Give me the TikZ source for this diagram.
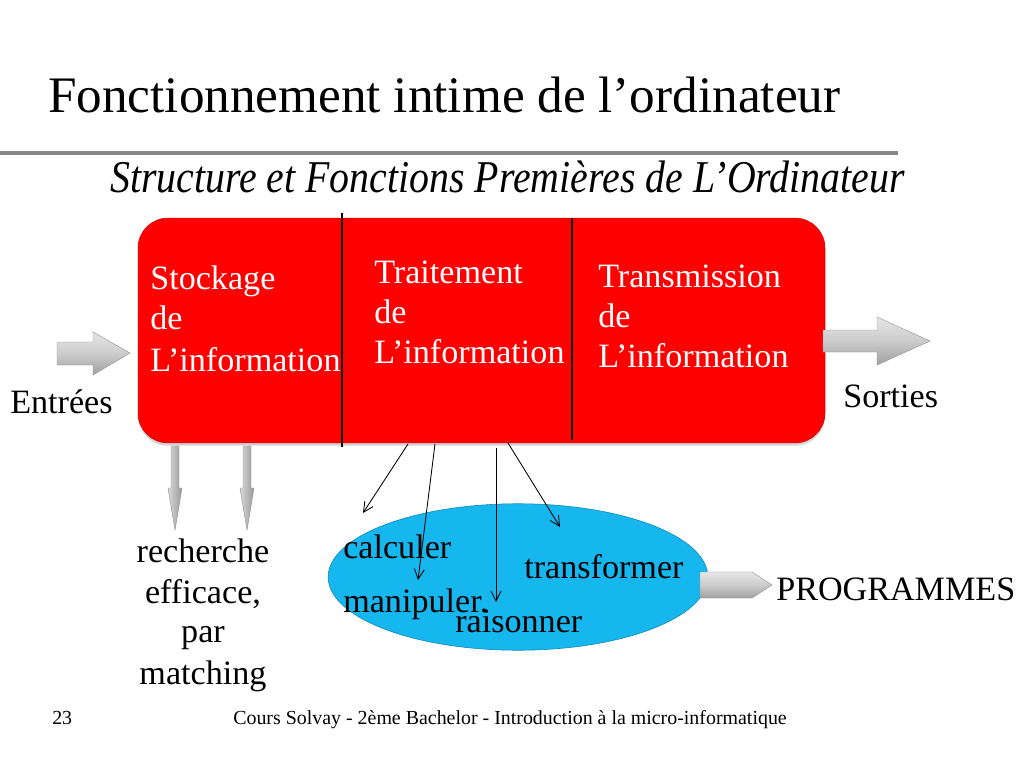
\documentclass[tikz,border=0pt]{standalone}
\usepackage{fontspec}
\setmainfont{Liberation Serif}
\usetikzlibrary{arrows.meta,shapes.geometric,shadows}
\definecolor{boxred}{RGB}{255,0,0}
\definecolor{ellblue}{RGB}{22,182,238}
\definecolor{rulegray}{RGB}{135,135,135}
\begin{document}
\begin{tikzpicture}[x=0.703125pt,y=-0.703125pt,
  txt/.style={anchor=base west, inner sep=0pt, font=\fontsize{24}{28}\selectfont},
  wtxt/.style={txt, text=white},
  ctr/.style={anchor=base, inner sep=0pt, font=\fontsize{24}{28}\selectfont},
  grayarrow/.style={top color=gray!20, bottom color=gray!75, middle color=gray!40, draw=gray!85, line width=0.3pt},
  vgrayarrow/.style={left color=gray!30, right color=gray!80, draw=gray!85, line width=0.3pt},
  link/.style={-{Straight Barb[length=7pt,width=7pt]}, line width=0.6pt},
  sepline/.style={line width=0.8pt}]
\useasboundingbox[fill=white] (0,0) rectangle (1024,768);

% title and rule
\node[anchor=base west, inner sep=0pt, font=\fontsize{36}{42}\selectfont] (title) at (48,113) {Fonctionnement intime de l’ordinateur};
\draw[rulegray, line width=3.5pt] (0,153) -- (898,153);
\node[anchor=base west, inner sep=0pt, font=\itshape\fontsize{32}{38}\selectfont] (sub) at (110,193) {\scalebox{0.875}[1]{Structure et Fonctions Premières de L’Ordinateur}};

% red box
\node[draw=red!85!black, fill=boxred, rounded corners=21pt, minimum width=483pt, minimum height=158pt,
      drop shadow={opacity=0.35, shadow xshift=0pt, shadow yshift=-2pt}] (box) at (481.5,330.5) {};
\draw[sepline] (342,213) -- (342,447);
\draw[sepline] (572,218) -- (572,440);

\node[wtxt] (s1) at (150,290) {Stockage};
\node[wtxt] (s2) at (150,330) {de};
\node[wtxt] (s3) at (150,371) {L’information};
\node[wtxt] (t1) at (374,283) {Traitement};
\node[wtxt] (t2) at (374,323) {de};
\node[wtxt] (t3) at (374,363) {L’information};
\node[wtxt] (m1) at (598,287) {Transmission};
\node[wtxt] (m2) at (598,327) {de};
\node[wtxt] (m3) at (598,367) {L’information};

% input / output arrows
\shade[grayarrow] (57,342) -- (93,342) -- (93,332) -- (130,353) -- (93,375) -- (93,365) -- (57,365) -- cycle;
\node[txt] (in) at (10,413) {Entrées};
\shade[grayarrow] (823,330) -- (877,330) -- (877,317) -- (930,341) -- (877,365) -- (877,352) -- (823,352) -- cycle;
\node[txt] (out) at (843,407) {Sorties};

% down arrows from storage
\shade[vgrayarrow] (171,446) -- (179,446) -- (179,488) -- (182,488) -- (175,530) -- (168,488) -- (171,488) -- cycle;
\shade[vgrayarrow] (243,446) -- (251,446) -- (251,488) -- (254,488) -- (247,530) -- (240,488) -- (243,488) -- cycle;
\node[ctr] (r1) at (203,562) {recherche};
\node[ctr] (r2) at (203,603) {efficace,};
\node[ctr] (r3) at (203,642) {par};
\node[ctr] (r4) at (203,684) {matching};

% ellipse
\node[ellipse, fill=ellblue, draw=ellblue!75!black, line width=0.4pt, minimum width=267pt, minimum height=103pt, inner sep=0pt] (ell) at (518,577) {};
\node[txt] (e1) at (343,558) {calculer};
\node[txt] (e2) at (343,612) {manipuler.};
\node[txt] (e3) at (455,632) {raisonner};
\node[txt] (e4) at (524,578) {transformer};

% programmes arrow
\shade[grayarrow] (700,572) -- (752,572) -- (772,585) -- (752,598) -- (700,598) -- cycle;
\node[txt] (prog) at (776,600) {PROGRAMMES};

% black connectors
\coordinate (a1s) at (408,444); \coordinate (a1e) at (363,513);
\coordinate (a2s) at (435,444); \coordinate (a2e) at (418,580);
\coordinate (a3s) at (496,448); \coordinate (a3e) at (496,602);
\coordinate (a4s) at (508,443); \coordinate (a4e) at (560,527);
\draw[link] (a1s) -- (a1e);
\draw[link] (a2s) -- (a2e);
\draw[link] (a3s) -- (a3e);
\draw[link] (a4s) -- (a4e);

% footer
\node[anchor=base west, inner sep=0pt, font=\fontsize{14}{16}\selectfont] (page) at (52,724) {23};
\node[anchor=base, inner sep=0pt, font=\fontsize{14}{16}\selectfont] (foot) at (510,724) {Cours Solvay - 2ème Bachelor - Introduction à la micro-informatique};
\end{tikzpicture}
\end{document}
